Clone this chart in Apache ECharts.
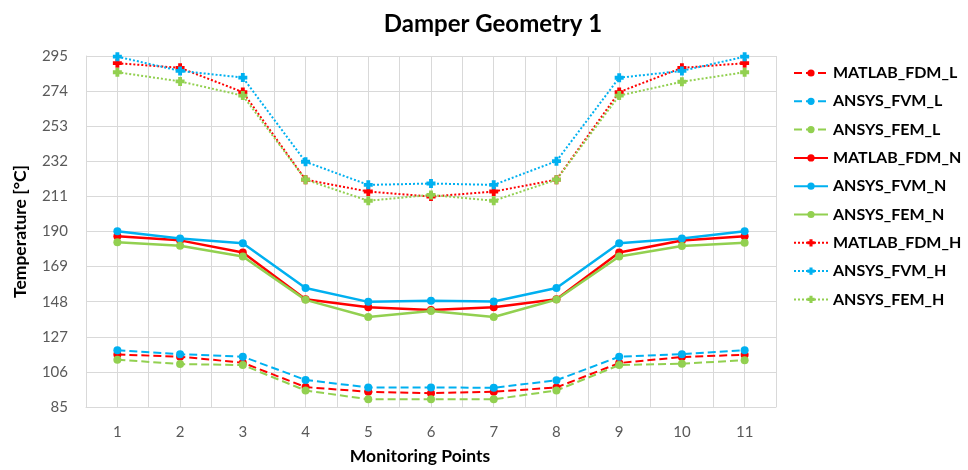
<!DOCTYPE html>
<html><head><meta charset="utf-8">
<script src="https://cdn.jsdelivr.net/npm/echarts@6/dist/echarts.min.js"></script>
<style>html,body{margin:0;padding:0;background:#fff}#c{width:968px;height:470px}</style>
</head><body><div id="c"></div>
<script>
const points = [1,2,3,4,5,6,7,8,9,10,11];
const yTicks = [85,106,127,148,169,190,211,232,253,274,295];
const MATLAB_FDM_L = [116.4,115.1,111.5,96.9,94.1,93.3,94.1,96.7,111.3,114.9,116.3];
const ANSYS_FVM_L  = [119.0,116.6,115.1,101.2,96.7,96.7,96.5,101.0,115.1,116.6,119.0];
const ANSYS_FEM_L  = [113.3,110.7,110.1,94.9,89.6,89.6,89.6,94.9,110.1,110.9,113.0];
const MATLAB_FDM_N = [187.2,184.7,177.4,149.5,144.7,143.1,144.7,149.5,177.4,184.6,187.1];
const ANSYS_FVM_N  = [190.2,185.8,183.0,156.2,147.9,148.5,148.1,156.2,183.0,185.8,190.2];
const ANSYS_FEM_N  = [183.5,181.5,175.0,149.1,138.8,142.5,138.8,149.3,175.0,181.3,183.3];
const MATLAB_FDM_H = [290.7,287.9,273.4,221.0,213.9,210.9,213.9,221.0,273.4,287.9,290.7];
const ANSYS_FVM_H  = [294.6,286.1,282.1,231.7,217.9,218.7,217.9,232.1,282.0,286.1,294.6];
const ANSYS_FEM_H  = [285.3,279.8,271.3,221.0,208.4,211.9,208.4,221.0,271.3,279.6,285.3];

const RED='#FF0000', BLUE='#00B0F0', GREEN='#92D050';
const PLUS='path://M2,0H5V2H7V5H5V7H2V5H0V2H2Z';
const defs = [
  ['MATLAB_FDM_L', MATLAB_FDM_L, RED,   'dashed', 'circle', 2],
  ['ANSYS_FVM_L',  ANSYS_FVM_L,  BLUE,  'dashed', 'circle', 2],
  ['ANSYS_FEM_L',  ANSYS_FEM_L,  GREEN, 'dashed', 'circle', 2],
  ['MATLAB_FDM_N', MATLAB_FDM_N, RED,   'solid',  'circle', 2.5],
  ['ANSYS_FVM_N',  ANSYS_FVM_N,  BLUE,  'solid',  'circle', 2.5],
  ['ANSYS_FEM_N',  ANSYS_FEM_N,  GREEN, 'solid',  'circle', 2.5],
  ['MATLAB_FDM_H', MATLAB_FDM_H, RED,   'dotted', PLUS, 2],
  ['ANSYS_FVM_H',  ANSYS_FVM_H,  BLUE,  'dotted', PLUS, 2],
  ['ANSYS_FEM_H',  ANSYS_FEM_H,  GREEN, 'dotted', PLUS, 2]
];
const FONT = 'Lato';
const series = defs.map(d => ({
  name: d[0], type: 'line',
  data: points.map((p,i) => [p, d[1][i]]),
  symbol: d[4], symbolSize: d[4]==='circle' ? 8 : 9,
  lineStyle: {color: d[2], width: d[5], type: d[3]},
  itemStyle: {color: d[2]},
  emphasis: {disabled: true},
  animation: false
}));

const chart = echarts.init(document.getElementById('c'));
chart.setOption({
  animation: false,
  title: {text: 'Damper Geometry 1', left: 488, top: 7, textAlign: 'center',
    textStyle: {fontFamily: FONT, fontSize: 24, fontWeight: 'bold', color: '#000'}},
  grid: {left: 86, right: 192, top: 56, bottom: 60},
  legend: {orient: 'vertical', left: 788, top: 59, itemWidth: 34, itemHeight: 9, itemGap: 10.3,
    textStyle: {fontFamily: FONT, fontSize: 16, fontWeight: 'bold', color: '#000', lineHeight: 18},
    data: defs.map(d => d[0])},
  xAxis: {type: 'value', min: 0.5, max: 11.5, interval: 0.5,
    name: 'Monitoring Points', nameLocation: 'middle', nameGap: 40,
    nameTextStyle: {fontFamily: FONT, fontSize: 17.5, fontWeight: 'bold', color: '#000', padding: [0, 22, 0, 0]},
    axisLine: {show: true, lineStyle: {color: '#D9D9D9', width: 1}},
    axisTick: {show: false},
    axisLabel: {fontFamily: FONT, fontSize: 15, color: '#595959', margin: 18,
      formatter: v => points.indexOf(v) >= 0 ? String(v) : ''},
    splitLine: {show: true, lineStyle: {color: '#D9D9D9', width: 1}}},
  yAxis: {type: 'value', min: yTicks[0], max: yTicks[yTicks.length-1], interval: 21,
    name: 'Temperature [°C]', nameLocation: 'middle', nameGap: 57,
    nameTextStyle: {fontFamily: FONT, fontSize: 17.5, fontWeight: 'bold', color: '#000'},
    axisLine: {show: true, lineStyle: {color: '#D9D9D9', width: 1}},
    axisTick: {show: false},
    axisLabel: {fontFamily: FONT, fontSize: 15, color: '#595959', margin: 18},
    splitLine: {show: true, lineStyle: {color: '#D9D9D9', width: 1}}},
  series: series
});
</script></body></html>
